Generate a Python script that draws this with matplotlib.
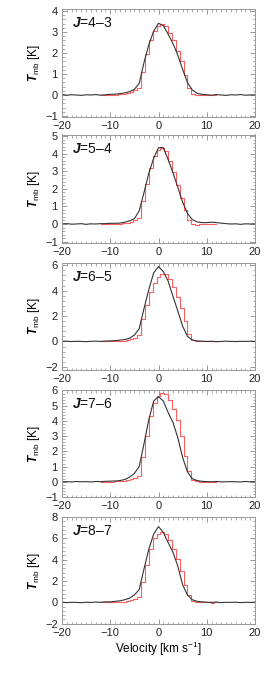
import numpy as np
import matplotlib
matplotlib.use('Agg')
import matplotlib.pyplot as plt
from matplotlib.ticker import MultipleLocator

plt.rcParams['font.family'] = ['Liberation Sans', 'DejaVu Sans']
plt.rcParams['mathtext.fontset'] = 'custom'
plt.rcParams['mathtext.rm'] = 'Liberation Sans'
plt.rcParams['mathtext.it'] = 'Liberation Sans:italic'
plt.rcParams['mathtext.bf'] = 'Liberation Sans:bold'
plt.rcParams['mathtext.bfit'] = 'Liberation Sans:italic:bold'

# velocity grids (km/s)
vel_obs = np.arange(-20, 21, 1.0)
vel_mod = np.arange(-12, 12.01, 0.8)

transitions = ['4\u20133', '5\u20134', '6\u20135', '7\u20136', '8\u20137']

# observed profiles (black), -20 .. 20 km/s
obs_43 = [0.02, -0.01, 0.01, 0.0, -0.02, 0.01, 0.0, 0.02, -0.01, 0.01, 0.03, 0.04,
          0.06, 0.10, 0.16, 0.27, 0.55, 1.55, 2.40, 3.05, 3.42, 3.30, 2.90, 2.45,
          1.90, 1.22, 0.60, 0.24, 0.08, 0.03, 0.01, -0.01, 0.02, 0.0, -0.02, 0.01,
          0.0, 0.02, -0.01, 0.0, 0.01]
obs_54 = [0.01, 0.02, -0.01, 0.0, 0.02, -0.02, 0.01, 0.0, 0.02, 0.02, 0.04, 0.04,
          0.05, 0.10, 0.18, 0.30, 0.75, 1.80, 2.90, 3.75, 4.35, 4.35, 3.67, 2.92,
          2.09, 1.25, 0.60, 0.25, 0.12, 0.08, 0.08, 0.10, 0.08, 0.05, 0.02, 0.0,
          0.01, -0.02, 0.01, 0.0, 0.01]
obs_65 = [0.0, 0.02, -0.01, 0.01, 0.0, -0.02, 0.01, 0.02, 0.0, 0.03, 0.04, 0.06,
          0.10, 0.15, 0.25, 0.50, 1.00, 2.60, 4.10, 5.40, 5.90, 5.50, 4.75, 3.55,
          2.40, 1.20, 0.40, 0.12, 0.04, 0.02, 0.0, 0.01, -0.02, 0.0, 0.02, 0.0,
          -0.01, 0.01, 0.0, 0.02, 0.0]
obs_76 = [0.0, 0.01, -0.01, 0.02, 0.0, 0.01, -0.01, 0.02, 0.01, 0.03, 0.04, 0.05,
          0.08, 0.15, 0.30, 0.55, 1.00, 2.50, 4.10, 5.30, 5.60, 5.30, 4.55, 3.90,
          2.90, 1.60, 0.65, 0.20, 0.08, 0.03, 0.01, 0.0, 0.02, -0.01, 0.0, 0.01,
          0.0, -0.01, 0.02, 0.0, 0.01]
obs_87 = [0.02, -0.02, 0.01, 0.0, -0.03, 0.02, 0.0, 0.03, 0.01, 0.05, 0.05, 0.10,
          0.15, 0.25, 0.40, 0.70, 1.20, 3.15, 5.00, 6.40, 7.10, 6.55, 5.60, 4.70,
          3.40, 1.65, 0.70, 0.25, 0.10, 0.05, 0.02, 0.0, 0.03, -0.02, 0.01, 0.0,
          0.02, -0.02, 0.01, 0.0, 0.02]

# model profiles (red, steps), -12 .. 12 km/s
mod_43 = [0.0, 0.01, 0.0, 0.02, 0.02, 0.03, 0.05, 0.10, 0.15, 0.22, 0.32, 1.10,
          1.95, 2.60, 3.05, 3.30, 3.38, 3.30, 2.95, 2.60, 2.10, 1.60, 0.95, 0.35,
          0.05, 0.02, 0.01, 0.0, 0.01, 0.0, 0.0]
mod_54 = [0.0, -0.02, 0.0, 0.0, 0.01, 0.02, 0.05, 0.08, 0.13, 0.20, 0.35, 1.30,
          2.30, 3.20, 3.85, 4.20, 4.32, 4.15, 3.60, 2.95, 2.20, 1.50, 0.80, 0.20,
          -0.02, -0.03, -0.02, -0.02, -0.02, 0.0, 0.0]
mod_65 = [0.0, 0.0, 0.0, 0.01, 0.02, 0.03, 0.05, 0.10, 0.18, 0.28, 0.50, 1.75,
          2.90, 3.90, 4.60, 5.10, 5.30, 5.30, 4.95, 4.30, 3.50, 2.60, 1.60, 0.60,
          0.10, 0.02, 0.0, 0.0, 0.0, 0.0, 0.0]
mod_76 = [0.0, 0.0, 0.01, 0.0, 0.02, 0.03, 0.06, 0.10, 0.16, 0.25, 0.40, 1.60,
          3.00, 4.30, 5.20, 5.65, 5.85, 5.75, 5.35, 4.75, 4.05, 3.00, 1.70, 0.70,
          0.10, 0.02, 0.0, 0.01, 0.0, 0.0, 0.0]
mod_87 = [0.0, 0.0, 0.01, 0.02, 0.03, 0.05, 0.08, 0.13, 0.20, 0.30, 0.50, 1.90,
          3.50, 5.00, 6.00, 6.45, 6.60, 6.40, 5.80, 5.00, 4.10, 2.90, 1.60, 0.70,
          0.15, 0.03, 0.0, 0.01, 0.0, -0.01, 0.0]

obs = [obs_43, obs_54, obs_65, obs_76, obs_87]
mod = [mod_43, mod_54, mod_65, mod_76, mod_87]
ylims = [(-1.05, 4.1), (-1.1, 5.1), (-2.25, 6.2), (-1.02, 6.03), (-2.05, 8.0)]
ysteps = [1, 1, 2, 1, 2]
# panel (top, bottom) in pixels
boxes = [(9, 117), (134.5, 243.3), (262.7, 370), (390, 497.3), (517, 624.3)]

W, H = 273, 682
fig = plt.figure(figsize=(W / 100, H / 100), dpi=100)

for i in range(5):
    top, bot = boxes[i]
    ax = fig.add_axes([62 / W, 1 - bot / H, 193 / W, (bot - top) / H])
    ax.plot(vel_mod, mod[i], drawstyle='steps-mid', color='#ff4d4d', lw=0.8, alpha=0.9)
    ax.plot(vel_obs, obs[i], color='#333333', lw=0.8)
    ax.set_xlim(-20, 20)
    ax.set_ylim(*ylims[i])
    ax.xaxis.set_major_locator(MultipleLocator(10))
    ax.xaxis.set_minor_locator(MultipleLocator(1))
    ax.yaxis.set_major_locator(MultipleLocator(ysteps[i]))
    ax.yaxis.set_minor_locator(MultipleLocator(ysteps[i] / 5))
    ax.tick_params(which='both', direction='in', top=True, right=True,
                   color='#888888', labelsize=8, labelcolor='#222222')
    ax.tick_params(which='major', length=3.5, width=0.6, pad=3)
    ax.tick_params(which='minor', length=1.8, width=0.5)
    for s in ax.spines.values():
        s.set_color('#999999')
        s.set_linewidth(0.7)
    ax.set_ylabel(r'$\mathbfit{T}_{\mathrm{mb}}$ [K]', fontsize=8.5, labelpad=2)
    ax.text(0.05, 0.87, r'$\mathbfit{J}$=' + transitions[i], transform=ax.transAxes,
            fontsize=10, ha='left', va='center', color='#111111')
    if i == 4:
        ax.set_xlabel(r'Velocity [km s$^{-1}$]', fontsize=8.5, labelpad=1)

fig.savefig('out.png', dpi=100)
